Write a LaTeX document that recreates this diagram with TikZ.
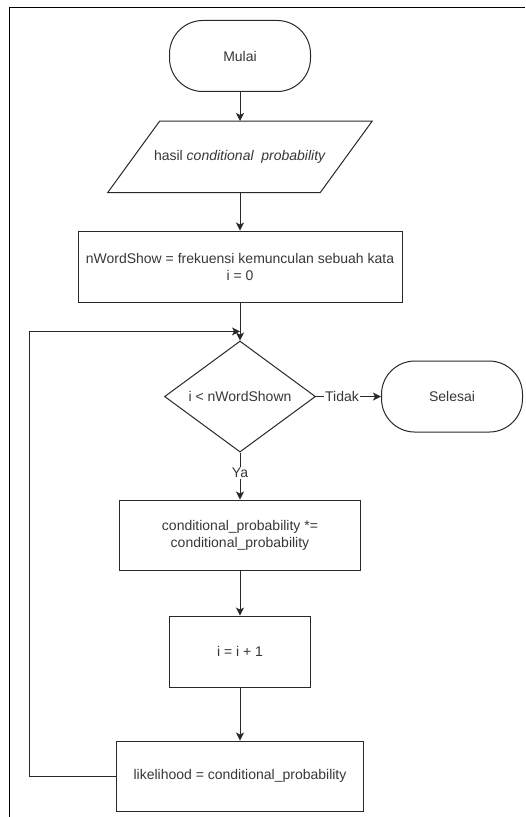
\documentclass[tikz,border=0pt]{standalone}
\usepackage{fontspec}
\setmainfont{Liberation Sans}
\usetikzlibrary{shapes.geometric, arrows.meta, positioning, calc}
\definecolor{linegray}{RGB}{40,40,40}
\definecolor{textgray}{RGB}{55,55,55}

\begin{document}
\begin{tikzpicture}[
        font=\fontsize{10.5}{12.75}\selectfont,
        terminator/.style={rectangle, draw=linegray, line width=0.75pt, rounded corners=25pt, minimum width=105.75pt, minimum height=53.25pt, align=center, text=textgray},
        inputbox/.style={rectangle, minimum width=159pt, minimum height=53.25pt, align=center, text=textgray},
        process/.style={rectangle, draw=linegray, line width=0.75pt, minimum height=53.25pt, align=center, text=textgray},
        decision/.style={diamond, draw=linegray, line width=0.75pt, shape aspect=1.36, inner sep=2pt, minimum width=113.25pt, minimum height=83.25pt, align=center, text=textgray},
        conn/.style={draw=linegray, line width=0.75pt, -{Stealth[length=6pt, width=6pt, inset=1.5pt]}},
        lbl/.style={fill=white, inner sep=1pt, text=textgray}
    ]
        \useasboundingbox (0,0) rectangle (393.75pt,-612.75pt);
        % page frame
        \draw[black, line width=0.75pt] (6.75pt,-612.75pt) -- (6.75pt,-6pt) -- (393.75pt,-6pt);

        \node[terminator] (mulai) at (180pt,-42pt) {Mulai};
        \node[inputbox, below=21.75pt of mulai] (hasil) {hasil \textit{conditional\ \ probability}};
        \node[process, minimum width=243pt, below=28.5pt of hasil] (init) {nWordShow = frekuensi kemunculan sebuah kata\\ i = 0};
        \node[decision, below=28.5pt of init] (cek) {i < nWordShown};
        \node[terminator, right=48.75pt of cek] (selesai) {Selesai};
        \node[process, minimum width=180.75pt, minimum height=52.5pt, below=35.25pt of cek] (kali) {conditional\_probability *=\\ conditional\_probability};
        \node[process, minimum width=105.75pt, below=33.75pt of kali] (tambah) {i = i + 1};
        \node[process, minimum width=185.25pt, minimum height=52.5pt, below=39.75pt of tambah] (likelihood) {likelihood = conditional\_probability};

        % parallelogram round the input text
        \draw[linegray, line width=0.75pt] ($(hasil.north west)+(19.5pt,0)$) -- ($(hasil.north east)+(19.5pt,0)$)
            -- ($(hasil.south east)+(-19.5pt,0)$) -- ($(hasil.south west)+(-19.5pt,0)$) -- cycle;

        \coordinate (gabung) at ($(init.south)!0.76!(cek.north)$);

        \draw[conn] (mulai) -- (hasil);
        \draw[conn] (hasil) -- (init);
        \draw[conn] (init) -- (cek);
        \draw[conn] (cek) -- node[lbl, pos=0.4] {Tidak} (selesai);
        \draw[conn] (cek) -- node[lbl, pos=0.43] {Ya} (kali);
        \draw[conn] (kali) -- (tambah);
        \draw[conn] (tambah) -- (likelihood);
        \draw[conn] (likelihood.west) -- ++(-65.25pt,0) |- (gabung);
    \end{tikzpicture}
\end{document}
